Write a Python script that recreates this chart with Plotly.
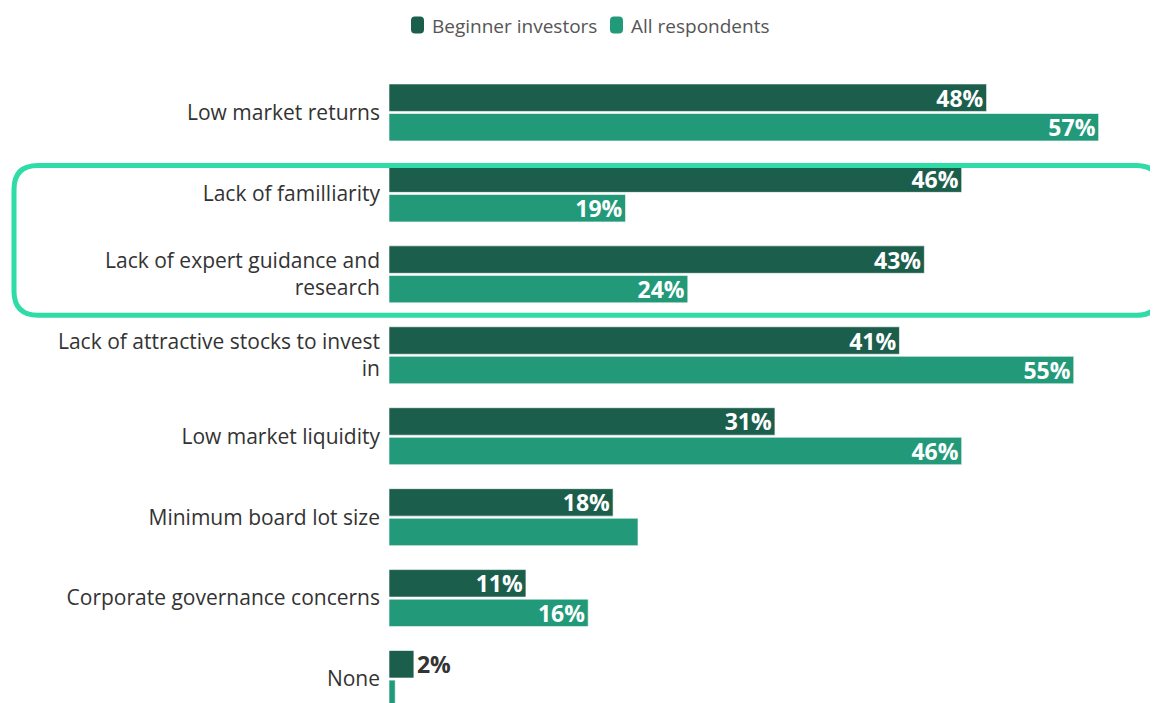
import plotly.graph_objects as go

categories = [
    "Low market returns",
    "Lack of familliarity",
    "Lack of expert guidance and<br>research",
    "Lack of attractive stocks to invest<br>in",
    "Low market liquidity",
    "Minimum board lot size",
    "Corporate governance concerns",
    "None",
]
beginner = [48, 46, 43, 41, 31, 18, 11, 2]
all_resp = [57, 19, 24, 55, 46, 20, 16, 0.5]
beginner_labels = ["48%", "46%", "43%", "41%", "31%", "18%", "11%", "2%"]
all_labels = ["57%", "19%", "24%", "55%", "46%", "", "16%", ""]
series_names = ["Beginner investors", "All respondents"]

DARK = "#1c5e4c"
TEAL = "#229a7a"
FONT = "Open Sans"

# page body has an 8px margin, so the figure is drawn offset by 8px
OFF = 8
W, H = 1158 - OFF, 703 - OFF
L, T = 389 - OFF, 71.5 - OFF

label_font_in = dict(color="white", size=23, family=FONT, weight="bold")
label_font_out = dict(color="#333333", size=23, family=FONT, weight="bold")

fig = go.Figure()
fig.add_trace(go.Bar(
    y=categories, x=beginner, name=series_names[0], orientation="h",
    marker=dict(color=DARK, line=dict(color="rgba(255,255,255,0.6)", width=1)),
    text=beginner_labels, textposition="auto", insidetextanchor="end",
    insidetextfont=label_font_in, outsidetextfont=label_font_out,
    constraintext="none", textangle=0, cliponaxis=False,
))
fig.add_trace(go.Bar(
    y=categories, x=all_resp, name=series_names[1], orientation="h",
    marker=dict(color=TEAL, line=dict(color="rgba(255,255,255,0.6)", width=1)),
    text=all_labels, textposition="inside", insidetextanchor="end",
    insidetextfont=label_font_in,
    constraintext="none", textangle=0, cliponaxis=False,
))


def px2paper(x, y):
    # screen pixel -> paper coords of the plot area
    x, y = x - OFF, y - OFF
    return (x - L) / (W - L), (H - y) / (H - T)


def rounded_box(x0, y0, x1, y1, r):
    a = px2paper(x0 + r, y0)
    b = px2paper(x1 - r, y0)
    c = px2paper(x1, y0)
    d = px2paper(x1, y0 + r)
    e = px2paper(x1, y1 - r)
    f = px2paper(x1, y1)
    g = px2paper(x1 - r, y1)
    h = px2paper(x0 + r, y1)
    i = px2paper(x0, y1)
    j = px2paper(x0, y1 - r)
    k = px2paper(x0, y0 + r)
    m = px2paper(x0, y0)
    p = lambda q: f"{q[0]:.5f},{q[1]:.5f}"
    return (f"M{p(a)} L{p(b)} Q{p(c)} {p(d)} L{p(e)} Q{p(f)} {p(g)} "
            f"L{p(h)} Q{p(i)} {p(j)} L{p(k)} Q{p(m)} {p(a)} Z")


# highlight box around the two "lack of" rows
fig.add_shape(type="path", xref="paper", yref="paper",
              path=rounded_box(14, 165, 1160, 315, 24),
              line=dict(color="#2fdba7", width=5), layer="above")

# legend drawn by hand: rounded swatches + text
for name, color, sx in zip(series_names, [DARK, TEAL], [411, 610]):
    fig.add_shape(type="path", xref="paper", yref="paper",
                  path=rounded_box(sx, 16, sx + 13, 33, 4),
                  fillcolor=color, line=dict(width=0))
    tx, ty = px2paper(sx + 19, 25)
    fig.add_annotation(x=tx, y=ty, xref="paper", yref="paper", text=name,
                       showarrow=False, xanchor="left", yanchor="middle",
                       font=dict(size=19, color="#555555", family=FONT))

fig.update_layout(
    width=W, height=H,
    barmode="group", bargap=0.27, bargroupgap=0.07,
    plot_bgcolor="white", paper_bgcolor="white",
    margin=dict(l=L, r=0, t=T, b=0),
    font=dict(family=FONT, color="#333333"),
    showlegend=False,
)
fig.update_xaxes(range=[0, (W - L) / 12.45], visible=False)
fig.update_yaxes(range=[7.296, -0.5], tickfont=dict(size=21, color="#333333"),
                 ticklabelstandoff=8, showgrid=False, showline=False,
                 automargin=False)

fig.write_html("out.html")
